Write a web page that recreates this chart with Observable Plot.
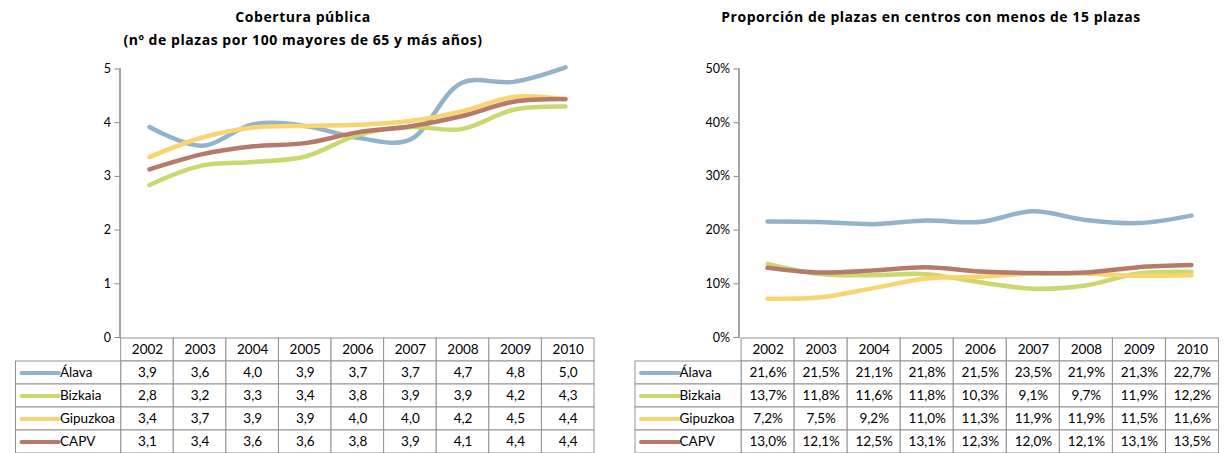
<!DOCTYPE html>
<html><head><meta charset="utf-8">
<script src="https://cdn.jsdelivr.net/npm/d3@7"></script>
<script src="https://cdn.jsdelivr.net/npm/@observablehq/plot@0.6"></script>
<style>
body{margin:0;background:#fff;width:1229px;height:453px;overflow:hidden;position:relative;font-family:Lato,"Open Sans",sans-serif;}
.panel{position:absolute;top:0;height:453px;}
.panel svg{position:absolute;left:0;overflow:visible;}
.title{position:absolute;font-family:"Open Sans",sans-serif;font-weight:bold;font-size:14px;letter-spacing:0.55px;text-align:center;white-space:nowrap;transform:translateX(-50%);line-height:23px;color:#000;}
</style></head><body>
<div id="left" class="panel" style="left:0;width:614px"></div>
<div id="right" class="panel" style="left:620px;width:609px"></div>
<script>
// ---- data ----
const years = ["2002","2003","2004","2005","2006","2007","2008","2009","2010"];
const series = ["Álava","Bizkaia","Gipuzkoa","CAPV"];
const colors = ["#93B3CB","#CAD86E","#FAD46F","#B6796A"];

// Cobertura pública (nº de plazas por 100 mayores de 65 y más años)
const cobAlava    = [3.92,3.57,3.97,3.94,3.72,3.68,4.74,4.76,5.03];
const cobBizkaia  = [2.84,3.20,3.27,3.37,3.77,3.92,3.88,4.24,4.30];
const cobGipuzkoa = [3.36,3.72,3.91,3.94,3.96,4.03,4.21,4.48,4.43];
const cobCAPV     = [3.13,3.41,3.56,3.62,3.82,3.93,4.12,4.39,4.44];

// Proporción de plazas en centros con menos de 15 plazas (%)
const propAlava    = [21.6,21.5,21.1,21.8,21.5,23.5,21.9,21.3,22.7];
const propBizkaia  = [13.7,11.8,11.6,11.8,10.3,9.1,9.7,11.9,12.2];
const propGipuzkoa = [7.2,7.5,9.2,11.0,11.3,11.9,11.9,11.5,11.6];
const propCAPV     = [13.0,12.1,12.5,13.1,12.3,12.0,12.1,13.1,13.5];

const cobTicks = [0,1,2,3,4,5];
const propTicks = [0,10,20,30,40,50];

// ---- drawing ----
function drawPanel(el, o) {
  const W = o.width;
  const rows = [];
  o.values.forEach((arr, si) => arr.forEach((v, i) => rows.push({series: series[si], year: years[i], value: v, col: i})));

  o.titles.forEach((t, i) => {
    const d = document.createElement("div");
    d.className = "title";
    d.style.left = o.titleX + "px";
    d.style.top = (5 + i * 23) + "px";
    d.textContent = t;
    el.appendChild(d);
  });

  const chart = Plot.plot({
    width: W, height: 345,
    marginLeft: o.plotLeft, marginRight: W - o.plotRight, marginTop: 68.5, marginBottom: 8,
    style: {fontFamily: "Lato, 'Open Sans', sans-serif", fontSize: "12px", color: "#000", background: "transparent"},
    x: {type: "point", domain: years, padding: 0.5, axis: null},
    y: {domain: o.yDomain, axis: null},
    color: {domain: series, range: colors},
    marks: [
      Plot.frame({anchor: "left", stroke: "#878787", strokeWidth: 1.5}),
      Plot.axisY({ticks: o.ticks, label: null, tickSize: 5, tickPadding: 4, tickFormat: o.tickFormat, stroke: "#878787", fill: "#000", fontSize: 12.5}),
      Plot.line(rows, {x: "year", y: "value", z: "series", stroke: "series", strokeWidth: 4.5, curve: "catmull-rom", strokeLinecap: "round"})
    ]
  });
  chart.style.top = "0px";
  el.appendChild(chart);

  const rowH = 23.15;
  const rowDomain = ["__head", ...series];
  const headCells = years.map((y, i) => ({c: i, row: "__head", text: y}));
  const valCells = rows.map(d => ({c: d.col, row: d.series, text: o.fmt(d.value)}));
  const labCells = series.map(s => ({row: s, text: s}));
  const table = Plot.plot({
    width: W, height: 116,
    margin: 0,
    style: {fontFamily: "Lato, 'Open Sans', sans-serif", color: "#000", background: "transparent"},
    x: {domain: [-2, years.length], range: [o.tableLeft, o.plotRight], axis: null},
    y: {type: "band", domain: rowDomain, range: [0.5, 0.5 + rowH * rowDomain.length], padding: 0, axis: null},
    color: {domain: series, range: colors},
    marks: [
      Plot.barX(headCells.concat(valCells), {x1: "c", x2: d => d.c + 1, y: "row", fill: "white", stroke: "#939393", strokeWidth: 1}),
      Plot.barX(labCells, {x1: -2, x2: 0, y: "row", fill: "white", stroke: "#939393", strokeWidth: 1}),
      Plot.ruleY(labCells, {y: "row", x1: -2, x2: 0, insetLeft: 6, insetRight: 62, stroke: "row", strokeWidth: 4, strokeLinecap: "round"}),
      Plot.text(labCells, {x: -2, y: "row", dx: 44, text: "text", textAnchor: "start", fontSize: 13.5, fill: "#000"}),
      Plot.text(headCells.concat(valCells), {x: d => d.c + 0.5, y: "row", text: "text", fontSize: 13.5, fill: "#000"})
    ]
  });
  table.style.top = "336.5px";
  el.appendChild(table);
}

drawPanel(document.getElementById("left"), {
  width: 614, plotLeft: 119.5, plotRight: 594, tableLeft: 15.5, titleX: 303,
  titles: ["Cobertura pública", "(nº de plazas por 100 mayores de 65 y más años)"],
  values: [cobAlava, cobBizkaia, cobGipuzkoa, cobCAPV],
  yDomain: [0, 5], ticks: cobTicks, tickFormat: d => String(d),
  fmt: v => v.toFixed(1).replace(".", ",")
});
drawPanel(document.getElementById("right"), {
  width: 609, plotLeft: 118.5, plotRight: 598.5, tableLeft: 15, titleX: 311,
  titles: ["Proporción de plazas en centros con menos de 15 plazas"],
  values: [propAlava, propBizkaia, propGipuzkoa, propCAPV],
  yDomain: [0, 50], ticks: propTicks, tickFormat: d => d + "%",
  fmt: v => v.toFixed(1).replace(".", ",") + "%"
});
</script>
</body></html>
